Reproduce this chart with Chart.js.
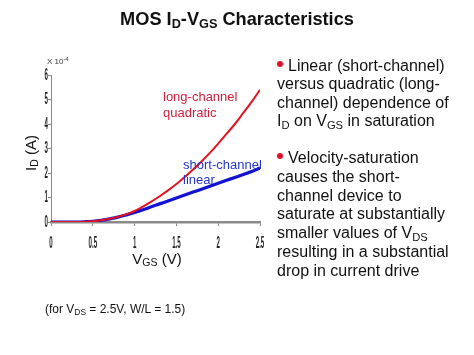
<!DOCTYPE html>
<html>
<head>
<meta charset="utf-8">
<script src="https://cdn.jsdelivr.net/npm/chart.js@4"></script>
<style>
html,body{margin:0;padding:0;background:#fff;}
#wrap{position:relative;width:474px;height:355px;overflow:hidden;font-family:"Liberation Sans",Arial,sans-serif;color:#111;}
#c{position:absolute;left:0;top:0;}
.t{position:absolute;white-space:nowrap;}
sub{font-size:70%;vertical-align:-0.25em;line-height:0;}
sup{font-size:70%;vertical-align:0.45em;line-height:0;}
.dot{display:inline-block;width:6px;height:6px;border-radius:50%;background:#e0102a;margin-right:5px;vertical-align:0.22em;}
</style>
</head>
<body>
<div id="wrap">
<canvas id="c" width="474" height="355"></canvas>
<div class="t" id="title" style="left:0;width:474px;text-align:center;top:9px;font-size:18.2px;font-weight:bold;">MOS I<sub>D</sub>-V<sub>GS</sub> Characteristics</div>
<div class="t" style="left:47px;top:57px;font-size:8px;color:#333;">X 10<sup>-4</sup></div>
<div class="t" style="left:163px;top:89px;font-size:13px;line-height:15.5px;color:#d41f3c;">long-channel<br>quadratic</div>
<div class="t" style="left:183px;top:157px;font-size:13px;line-height:15px;color:#2436cc;">short-channel<br>linear</div>
<div class="t" style="left:30px;top:153px;font-size:15px;transform:translate(-50%,-50%) rotate(-90deg);">I<sub>D</sub> (A)</div>
<div class="t" style="left:157px;top:258px;font-size:15px;transform:translate(-50%,-50%);">V<sub>GS</sub> (V)</div>
<div class="t" style="left:45px;top:302px;font-size:12px;">(for V<sub>DS</sub> = 2.5V, W/L = 1.5)</div>
<div class="t" style="left:277px;top:57px;font-size:16px;line-height:18.3px;"><span class="dot"></span>Linear (short-channel)<br>versus quadratic (long-<br>channel) dependence of<br>I<sub>D</sub> on V<sub>GS</sub> in saturation</div>
<div class="t" style="left:277px;top:149px;font-size:16px;line-height:18.8px;"><span class="dot"></span>Velocity-saturation<br>causes the short-<br>channel device to<br>saturate at substantially<br>smaller values of V<sub>DS</sub><br>resulting in a substantial<br>drop in current drive</div>
</div>
<script>
// Data (I_D in units of 1e-4 A)
const vgs = [0,0.1,0.2,0.3,0.4,0.5,0.6,0.7,0.8,0.9,1.0,1.1,1.2,1.3,1.4,1.5,1.6,1.7,1.8,1.9,2.0,2.1,2.2,2.3,2.4,2.5];
const idLong = [0,0,0,0,0.01,0.03,0.07,0.13,0.21,0.31,0.45,0.63,0.83,1.05,1.29,1.55,1.84,2.14,2.47,2.82,3.2,3.6,4.0,4.45,4.9,5.4];
const idShort = [0,0,0,0,0.01,0.03,0.07,0.13,0.2,0.29,0.39,0.5,0.62,0.74,0.86,0.98,1.1,1.22,1.34,1.46,1.58,1.7,1.82,1.94,2.06,2.2];
const xTickLabels = ["0","0.5","1","1.5","2","2.5"];
const yTickLabels = ["0","1","2","3","4","5","6"];

// Condensed tick labels (the reference uses a very narrow face)
const narrowTicks = {
  id:'narrowTicks',
  afterDraw(chart){
    const ctx = chart.ctx;
    const sx = 0.36;
    ctx.save();
    ctx.fillStyle = '#222';
    ctx.font = "bold 17px 'Liberation Sans', Arial, sans-serif";
    ctx.textBaseline = 'middle';
    const xs = chart.scales.x, ys = chart.scales.y;
    ctx.textAlign = 'center';
    xTickLabels.forEach(t=>{
      const px = xs.getPixelForValue(parseFloat(t));
      ctx.save(); ctx.translate(px, xs.top + 21); ctx.scale(sx,1); ctx.fillText(t,0,0); ctx.restore();
    });
    ctx.textAlign = 'right';
    yTickLabels.forEach(t=>{
      const py = ys.getPixelForValue(parseFloat(t));
      ctx.save(); ctx.translate(ys.right - 3, py); ctx.scale(sx,1); ctx.fillText(t,0,0); ctx.restore();
    });
    ctx.restore();
  }
};

new Chart(document.getElementById('c'), {
  type:'line',
  data:{
    datasets:[
      {label:'long-channel quadratic', data:vgs.map((v,i)=>({x:v,y:idLong[i]})), borderColor:'#e3141f', borderWidth:2, pointRadius:0, tension:0.4, fill:false},
      {label:'short-channel linear', data:vgs.map((v,i)=>({x:v,y:idShort[i]})), borderColor:'#1212d4', borderWidth:3.2, pointRadius:0, tension:0.4, fill:false}
    ]
  },
  plugins:[narrowTicks],
  options:{
    responsive:false, animation:false,
    layout:{padding:{left:0,right:214,top:75,bottom:0}},
    plugins:{legend:{display:false}, tooltip:{enabled:false}},
    scales:{
      x:{type:'linear', min:0, max:2.5,
        afterFit:s=>{s.height=133;},
        afterBuildTicks:s=>{s.ticks=xTickLabels.map(t=>({value:parseFloat(t)}));},
        ticks:{display:false},
        grid:{drawOnChartArea:false, tickLength:4, color:'#888'},
        border:{color:'#8a8a8a', width:2.5}
      },
      y:{type:'linear', min:0, max:6,
        afterFit:s=>{s.width=51;},
        afterBuildTicks:s=>{s.ticks=yTickLabels.map(t=>({value:parseFloat(t)}));},
        ticks:{display:false},
        grid:{drawOnChartArea:false, tickLength:3, color:'#888'},
        border:{color:'#8a8a8a', width:1}
      }
    }
  }
});
</script>
</body>
</html>
